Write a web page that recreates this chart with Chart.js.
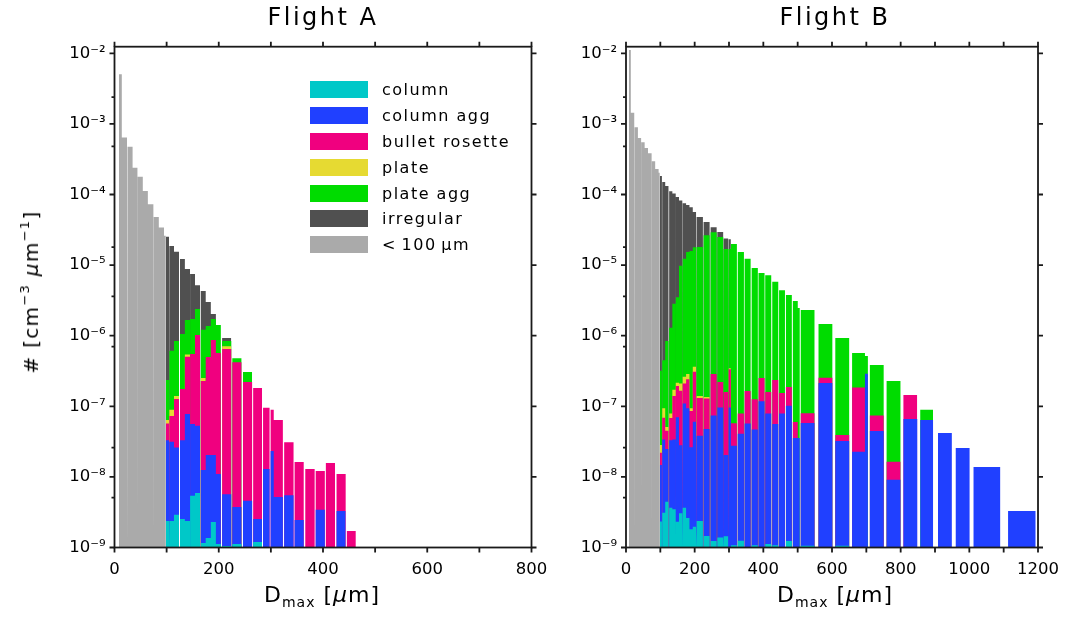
<!DOCTYPE html>
<html>
<head>
<meta charset="utf-8">
<script src="https://cdn.jsdelivr.net/npm/chart.js@4.4.1/dist/chart.umd.min.js"></script>
<style>
  body { margin: 0; background: #fff; width: 1071px; height: 618px; position: relative; overflow: hidden; font-family: "DejaVu Sans", sans-serif; color: #000; }
  canvas { position: absolute; top: 0; }
  #chartA { left: 0; }
  #chartB { left: 540px; }
  .title { position: absolute; top: 3px; font-size: 24px; letter-spacing: 2.5px; transform: translateX(-50%); white-space: nowrap; }
  .xlabel { position: absolute; top: 582px; font-size: 22px; letter-spacing: 1px; transform: translateX(-50%); white-space: nowrap; }
  .xlabel sub { font-size: 14px; vertical-align: -5px; }
  .ylabel { position: absolute; left: 30px; top: 292px; font-size: 20px; letter-spacing: 1.3px; transform: translate(-50%, -50%) rotate(-90deg); white-space: nowrap; }
  .ylabel sup { font-size: 13px; vertical-align: 9px; }
  .legend { position: absolute; left: 310px; top: 77px; }
  .legend .row { height: 25.8px; display: flex; align-items: center; }
  .legend .sw { width: 58px; height: 17px; margin-right: 14px; }
  .legend span { font-size: 16px; letter-spacing: 1.5px; }
</style>
</head>
<body>
<canvas id="chartA" width="570" height="618"></canvas>
<canvas id="chartB" width="531" height="618"></canvas>

<div class="title" style="left:323px">Flight A</div>
<div class="title" style="left:835px">Flight B</div>
<div class="xlabel" style="left:322px">D<sub>max</sub> [<i>μ</i>m]</div>
<div class="xlabel" style="left:835px">D<sub>max</sub> [<i>μ</i>m]</div>
<div class="ylabel"># [cm<sup>−3</sup> <i>μ</i>m<sup>−1</sup>]</div>
<div class="legend" id="legend"></div>

<script>
// size bins shared by both flights, in µm
const binLo = [8.6, 14, 25.5, 34.7, 44.5, 54.3, 64, 75.5, 85, 95,
    98.5, 105.5, 114.2, 125.7, 135, 145, 154.4, 165.5, 175, 184.8,
    194.5, 206.5, 226, 246.5, 266, 285, 299.5, 305.5, 325.5, 345.5,
    366, 386, 405.5, 426, 445.8, 465.8, 486, 500.3, 509, 560.7,
    609.6, 658.5, 696, 710.3, 759, 808, 857, 908.7, 960.4, 1012.2,
    1112.8];
const binHi = [14, 24, 34.7, 44, 54.3, 64, 74.6, 85, 95, 98.5,
    104.6, 114.2, 123.7, 135, 144.8, 154.4, 164, 175, 184.8, 194.5,
    204, 224, 243.5, 264, 283, 297.5, 305.5, 323, 343.5, 363,
    384, 403.5, 423, 443.5, 463, 483, 500.3, 506, 549, 601,
    650, 696, 704.5, 750.5, 799.4, 848.3, 894.3, 949, 1000.7, 1089.8,
    1193.3];

// stacked bars: each value is the TOP of that layer (it includes the layers below), 0 = layer absent
// Flight A
const aSmall = [5.05e-3, 6.4e-4, 4.75e-4, 2.4e-4, 1.79e-4, 1.12e-4, 7.3e-5, 4.8e-5, 3.4e-5, 2.6e-5];
const aIrregular = [0, 0, 0, 0, 0, 0, 0, 0, 0, 0,
    2.53e-5, 1.87e-5, 1.54e-5, 1.22e-5, 8.8e-6, 7.5e-6, 5.2e-6, 4.3e-6, 3.0e-6, 2.03e-6,
    0, 9.3e-7];
const aPlateAgg = [0, 0, 0, 0, 0, 0, 0, 0, 0, 0,
    2.36e-7, 6.1e-7, 8.4e-7, 1.06e-6, 1.67e-6, 1.73e-6, 2.39e-6, 1.21e-6, 1.37e-6, 1.73e-6,
    1.42e-6, 8.4e-7, 4.8e-7, 3.06e-7];
const aPlate = [0, 0, 0, 0, 0, 0, 0, 0, 0, 0,
    6.4e-8, 8.9e-8, 1.4e-7, 0, 5.4e-7, 0, 0, 2.52e-7, 0, 0,
    0, 7.1e-7];
const aBullet = [0, 0, 0, 0, 0, 0, 0, 0, 0, 0,
    5.7e-8, 7.3e-8, 1.27e-7, 1.76e-7, 5.05e-7, 5.5e-7, 1.02e-6, 2.28e-7, 5.0e-7, 8.7e-7,
    5.7e-7, 6.5e-7, 4.2e-7, 2.21e-7, 1.82e-7, 9.5e-8, 8.9e-8, 6.4e-8, 3.1e-8, 1.63e-8,
    1.29e-8, 1.21e-8, 1.57e-8, 1.1e-8, 1.71e-9];
const aColumnAgg = [0, 0, 0, 0, 0, 0, 0, 0, 0, 0,
    3.3e-8, 3.15e-8, 2.6e-8, 3.3e-8, 7.8e-8, 5.6e-8, 5.3e-8, 1.25e-8, 2.04e-8, 2.04e-8,
    1.1e-8, 5.7e-9, 3.75e-9, 4.6e-9, 2.54e-9, 1.29e-8, 2.33e-8, 5.2e-9, 5.5e-9, 2.45e-9,
    0, 3.43e-9, 0, 3.3e-9, 0];
const aColumn = [0, 0, 0, 0, 0, 0, 0, 0, 0, 0,
    2.37e-9, 2.37e-9, 2.9e-9, 2.54e-9, 2.37e-9, 5.4e-9, 5.9e-9, 1.16e-9, 1.36e-9, 2.3e-9,
    1.12e-9, 1.05e-9, 1.12e-9, 0, 1.2e-9];

// Flight B
const bSmall = [1.11e-2, 1.44e-3, 8.95e-4, 6.3e-4, 5.5e-4, 4.56e-4, 3.83e-4, 2.95e-4, 2.3e-4, 2.04e-4];
const bIrregular = [0, 0, 0, 0, 0, 0, 0, 0, 0, 0,
    1.83e-4, 1.5e-4, 1.32e-4, 1.11e-4, 1.03e-4, 9.2e-5, 8.2e-5, 7.5e-5, 7.1e-5, 6.6e-5,
    5.65e-5, 4.8e-5, 4.07e-5, 3.43e-5, 2.94e-5, 2.39e-5, 2.32e-5];
const bPlateAgg = [0, 0, 0, 0, 0, 0, 0, 0, 0, 0,
    3.2e-7, 4.5e-7, 8.4e-7, 1.3e-6, 2.84e-6, 3.5e-6, 9.8e-6, 1.23e-5, 1.53e-5, 1.58e-5,
    1.79e-5, 1.8e-5, 2.64e-5, 2.92e-5, 2.5e-5, 1.69e-5, 1.69e-5, 1.99e-5, 1.53e-5, 1.23e-5,
    9.1e-6, 7.7e-6, 7.2e-6, 5.8e-6, 4.4e-6, 3.77e-6, 3.1e-6, 2.47e-6, 2.31e-6, 1.47e-6,
    9.3e-7, 5.7e-7, 5.15e-7, 3.85e-7, 2.28e-7, 0, 8.9e-8];
const bPlate = [0, 0, 0, 0, 0, 0, 0, 0, 0, 0,
    2.83e-8, 9.4e-8, 5.1e-8, 7.9e-8, 1.72e-7, 2.16e-7, 2.11e-7, 2.63e-7, 2.87e-7, 9.4e-8,
    3.64e-7, 1.4e-7, 1.35e-7, 0, 0, 0, 3.45e-7];
const bBullet = [0, 0, 0, 0, 0, 0, 0, 0, 0, 0,
    2.2e-8, 6.9e-8, 4.5e-8, 6.8e-8, 1.4e-7, 1.94e-7, 1.66e-7, 2.11e-7, 2.41e-7, 8.6e-8,
    3.09e-7, 1.31e-7, 1.29e-7, 2.87e-7, 2.21e-7, 1.59e-7, 3.34e-7, 5.74e-8, 7.9e-8, 1.65e-7,
    1.26e-7, 2.52e-7, 1.59e-7, 2.36e-7, 1.54e-7, 1.88e-7, 6.0e-8, 0, 8.0e-8, 2.54e-7,
    3.92e-8, 1.84e-7, 0, 7.4e-8, 1.64e-8, 1.45e-7];
const bColumnAgg = [0, 0, 0, 0, 0, 0, 0, 0, 0, 0,
    1.47e-8, 3.4e-8, 2.48e-8, 3.3e-8, 3.4e-8, 7.0e-8, 2.8e-8, 1.1e-7, 9.4e-8, 2.62e-8,
    6.05e-8, 3.84e-8, 4.77e-8, 7.4e-8, 9.6e-8, 2.04e-8, 9.6e-8, 2.77e-8, 4.08e-8, 5.7e-8,
    4.7e-8, 1.18e-7, 7.9e-8, 5.6e-8, 7.9e-8, 1.02e-7, 3.56e-8, 3.56e-8, 5.8e-8, 2.14e-7,
    3.22e-8, 2.28e-8, 2.9e-7, 4.47e-8, 9.1e-9, 6.6e-8, 6.4e-8, 4.19e-8, 2.57e-8, 1.38e-8,
    3.29e-9];
const bColumn = [0, 0, 0, 0, 0, 0, 0, 0, 0, 0,
    2.34e-9, 3.1e-9, 4.46e-9, 3.67e-9, 3.47e-9, 2.32e-9, 3.06e-9, 3.67e-9, 2.62e-9, 1.81e-9,
    1.97e-9, 2.37e-9, 1.46e-9, 1.24e-9, 1.38e-9, 1.44e-9, 0, 1.08e-9, 1.25e-9, 0,
    1.08e-9, 0, 1.12e-9, 1.08e-9, 0, 1.24e-9, 0, 0, 1.06e-9, 0,
    1.06e-9];

const decades = [1e-9, 1e-8, 1e-7, 1e-6, 1e-5, 1e-4, 1e-3, 1e-2];
const minorTicks = [2.4e-3, 4.8e-4, 1.8e-5, 3.6e-6, 7e-7, 2.6e-8, 5.1e-9];

const layers = [
    { label: 'column', color: '#00c8c8' },
    { label: 'column agg', color: '#2040ff' },
    { label: 'bullet rosette', color: '#f0007f' },
    { label: 'plate', color: '#e6da32' },
    { label: 'plate agg', color: '#00dc00' },
    { label: 'irregular', color: '#505050' },
    { label: '<\u2009100\u2009μm', color: '#aaaaaa' },
];

const FLOOR = 1e-9;
const supDigits = { '-': '⁻', '0': '⁰', '1': '¹', '2': '²', '3': '³', '4': '⁴', '5': '⁵', '6': '⁶', '7': '⁷', '8': '⁸', '9': '⁹' };

// outline of all bars of one layer, filled down to the axis floor
function barOutline(tops) {
    const pts = [];
    tops.forEach((v, i) => {
        if (!v) return;
        pts.push({ x: binLo[i], y: FLOOR }, { x: binLo[i], y: v }, { x: binHi[i], y: v }, { x: binHi[i], y: FLOOR });
    });
    return pts;
}

const framePlugin = {
    id: 'frame',
    afterDraw(chart) {
        const { ctx, chartArea: a, scales: { x, y } } = chart;
        ctx.save();
        ctx.strokeStyle = '#1a1a1a';
        ctx.lineWidth = 1.8;
        ctx.strokeRect(a.left, a.top, a.right - a.left, a.bottom - a.top);
        ctx.beginPath();
        x.ticks.forEach((t) => {
            const px = x.getPixelForValue(t.value);
            ctx.moveTo(px, a.bottom); ctx.lineTo(px, a.bottom + 5);
            ctx.moveTo(px, a.top); ctx.lineTo(px, a.top - 5);
        });
        decades.forEach((v) => {
            const py = y.getPixelForValue(v);
            ctx.moveTo(a.left, py); ctx.lineTo(a.left - 5, py);
            ctx.moveTo(a.right, py); ctx.lineTo(a.right + 5, py);
        });
        minorTicks.forEach((v) => {
            const py = y.getPixelForValue(v);
            ctx.moveTo(a.left, py); ctx.lineTo(a.left - 3, py);
        });
        ctx.stroke();
        ctx.restore();
    }
};

function makeChart(id, series, xMax, axisWidth, rightPad) {
    const datasets = series.map((tops, k) => ({
        data: barOutline(tops),
        backgroundColor: layers[k].color,
        borderColor: 'transparent',
        borderWidth: 0,
        pointRadius: 0,
        fill: 'start',
        tension: 0,
    }));
    return new Chart(document.getElementById(id), {
        type: 'line',
        data: { datasets },
        options: {
            responsive: false,
            animation: false,
            events: [],
            layout: { padding: { top: 46.7, right: rightPad, bottom: 0, left: 0 } },
            plugins: { legend: { display: false }, tooltip: { enabled: false } },
            scales: {
                x: {
                    type: 'linear', min: 0, max: xMax,
                    grid: { display: false, drawTicks: false },
                    border: { display: false },
                    ticks: {
                        stepSize: 100, autoSkip: false, maxRotation: 0, padding: 12, color: '#000',
                        font: { family: 'DejaVu Sans', size: 16.5 },
                        callback: (v) => (v % 200 === 0 ? String(v) : ''),
                    },
                    afterFit: (s) => { s.height = 70.5; },
                },
                y: {
                    type: 'logarithmic', min: FLOOR, max: 1.24e-2,
                    grid: { display: false, drawTicks: false },
                    border: { display: false },
                    afterBuildTicks: (s) => { s.ticks = decades.map((v) => ({ value: v })); },
                    ticks: {
                        autoSkip: false, padding: 9, color: '#000',
                        font: { family: 'DejaVu Sans', size: 16.5 },
                        callback: (v) => '10' + String(Math.round(Math.log10(v))).replace(/./g, (c) => supDigits[c]),
                    },
                    afterFit: (s) => { s.width = axisWidth; },
                },
            },
        },
        plugins: [framePlugin],
    });
}

makeChart('chartA', [aColumn, aColumnAgg, aBullet, aPlate, aPlateAgg, aIrregular, aSmall], 800, 114.5, 570 - 531.5);
makeChart('chartB', [bColumn, bColumnAgg, bBullet, bPlate, bPlateAgg, bIrregular, bSmall], 1200, 86, 531 - 503.3);

const legend = document.getElementById('legend');
layers.forEach((layer) => {
    const row = document.createElement('div');
    row.className = 'row';
    row.innerHTML = `<div class="sw" style="background:${layer.color}"></div><span>${layer.label.replace('<', '&lt;')}</span>`;
    legend.appendChild(row);
});
</script>
</body>
</html>
